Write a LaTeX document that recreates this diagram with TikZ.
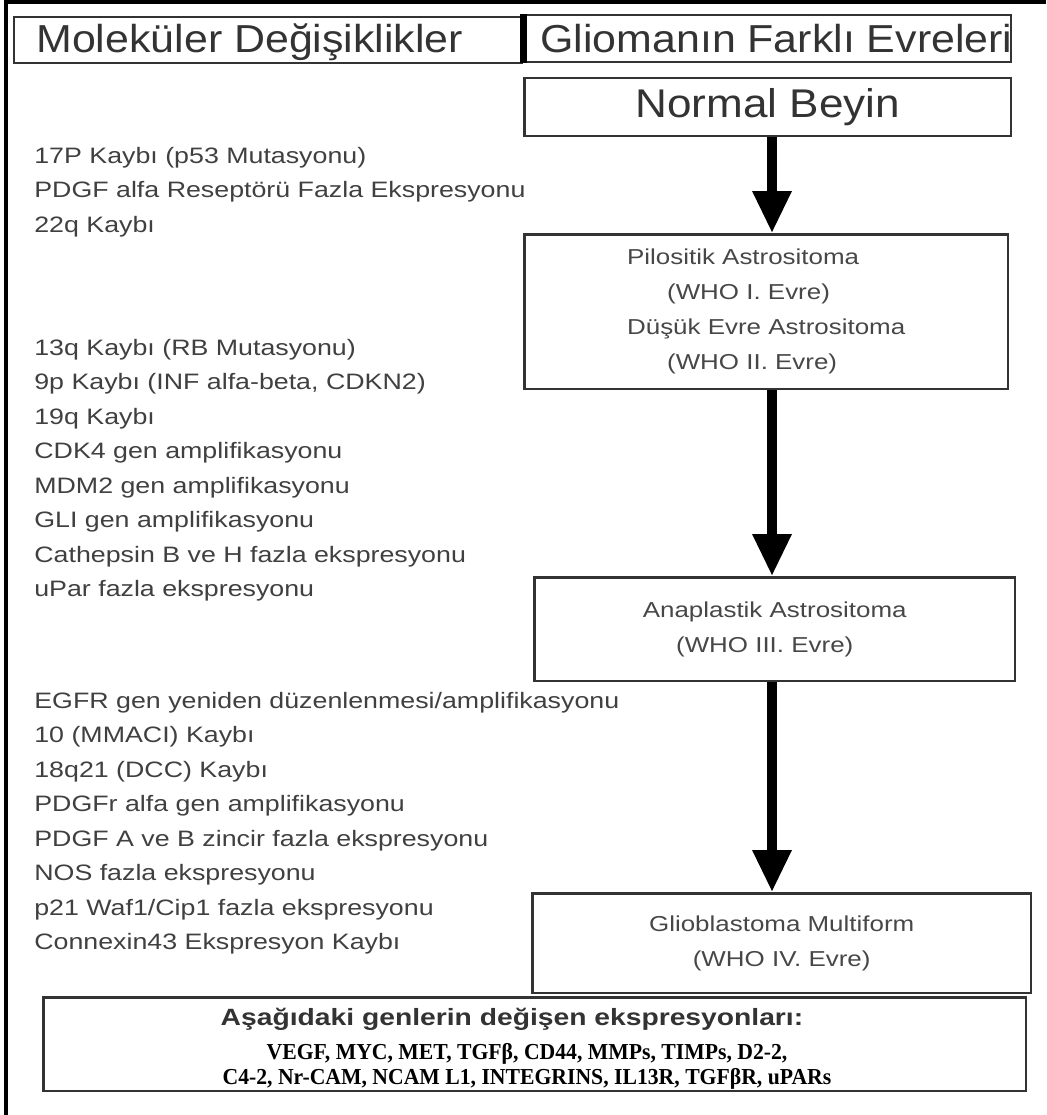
\documentclass[tikz,border=0pt]{standalone}
\usepackage{fontspec}
\setmainfont{Liberation Sans}
\newfontfamily\hdrfont[FakeStretch=1.1]{Liberation Sans}
\newfontfamily\listfont[FakeStretch=1.2]{Liberation Sans}
\newfontfamily\genefont[FakeStretch=0.95]{Liberation Serif}
\usetikzlibrary{arrows.meta,positioning}

\begin{document}
\begin{tikzpicture}[x=0.02cm,y=-0.02cm,
	frame/.style={line width=0.07cm,black},
	hdrbox/.style={draw=black!80,line width=0.05cm,inner sep=0pt,anchor=north west},
	hdrtext/.style={anchor=base west,inner sep=0pt,text=black!80,font=\hdrfont\fontsize{22.2}{26}\selectfont},
	stagebox/.style={hdrbox,align=center,text=black!72,font=\listfont\fontsize{12.3}{19.9}\selectfont},
	mutlist/.style={anchor=north west,inner sep=0pt,align=left,text=black!75,font=\listfont\fontsize{12.7}{19.6}\selectfont},
	bigarrow/.style={line width=0.19cm,-{Triangle[width=0.74cm,length=0.84cm]}}]
		\useasboundingbox (0,0) rectangle (1046,1115);
		\draw[frame] (1046,2) -- (6,2) -- (6,1115);
		% column headers
		\node[hdrbox,minimum width=10.16cm,minimum height=0.92cm] (hdrL) at (13,16) {};
		\node[hdrbox,minimum width=9.78cm,minimum height=0.94cm] (hdrR) at (521,14) {};
		\draw[line width=0.14cm] ([xshift=0.04cm]hdrR.north west) -- ([xshift=0.04cm]hdrR.south west);
		\node[hdrtext] (molTxt) at (36,53) {Moleküler Değişiklikler};
		\node[hdrtext] (evreTxt) at (540,53) {Gliomanın Farklı Evreleri};
		% stages
		\node[stagebox,minimum width=9.74cm,minimum height=1.16cm,font=\hdrfont\fontsize{22.8}{26}\selectfont,text=black!80] (normal) at (523,77) {Normal Beyin};
		\node[stagebox,align=left,minimum width=9.68cm,minimum height=3.1cm] (pilo) at (523,233) {Pilositik Astrositoma\\\hspace*{0.8cm}(WHO I. Evre)\\Düşük Evre Astrositoma\\\hspace*{0.8cm}(WHO II. Evre)};
		\node[stagebox,minimum width=9.62cm,minimum height=2.08cm] (anap) at (533,576) {Anaplastik Astrositoma\\(WHO III. Evre)\hspace*{0.4cm}};
		\node[stagebox,minimum width=9.98cm,minimum height=2.0cm] (glio) at (531,892) {Glioblastoma Multiform\\(WHO IV. Evre)};
		\coordinate (axis) at (772,0);
		\draw[bigarrow] (normal.south -| axis) -- (pilo.north -| axis);
		\draw[bigarrow] (pilo.south -| axis) -- (anap.north -| axis);
		\draw[bigarrow] (anap.south -| axis) -- (glio.north -| axis);
		% molecular changes
		\node[mutlist] (mutA) at (34,147) {17P Kaybı (p53 Mutasyonu)\\PDGF alfa Reseptörü Fazla Ekspresyonu\\22q Kaybı};
		\node[mutlist] (mutB) at (34,339) {13q Kaybı (RB Mutasyonu)\\9p Kaybı (INF alfa-beta, CDKN2)\\19q Kaybı\\CDK4 gen amplifikasyonu\\MDM2 gen amplifikasyonu\\GLI gen amplifikasyonu\\Cathepsin B ve H fazla ekspresyonu\\uPar fazla ekspresyonu};
		\node[mutlist] (mutC) at (34,692) {EGFR gen yeniden düzenlenmesi/amplifikasyonu\\10 (MMACI) Kaybı\\18q21 (DCC) Kaybı\\PDGFr alfa gen amplifikasyonu\\PDGF A ve B zincir fazla ekspresyonu\\NOS fazla ekspresyonu\\p21 Waf1/Cip1 fazla ekspresyonu\\Connexin43 Ekspresyon Kaybı};
		% altered genes
		\node[hdrbox,minimum width=19.66cm,minimum height=1.88cm] (geneBox) at (42,996) {};
		\node[anchor=base,inner sep=0pt,text=black!80,font=\listfont\bfseries\fontsize{13.4}{16}\selectfont] (geneTitle) at (512,1025) {Aşağıdaki genlerin değişen ekspresyonları:};
		\node[anchor=north,inner sep=0pt,align=center,font=\genefont\bfseries\fontsize{13}{14.4}\selectfont] (geneList) at (527,1043) {VEGF, MYC, MET, TGFβ, CD44, MMPs, TIMPs, D2-2,\\C4-2, Nr-CAM, NCAM L1, INTEGRINS, IL13R, TGFβR, uPARs};
	\end{tikzpicture}
\end{document}
